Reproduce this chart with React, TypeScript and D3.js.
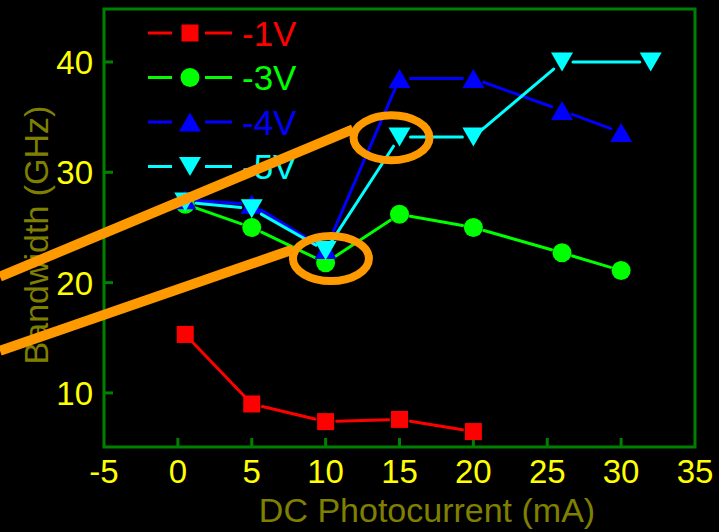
import React from "react";
import * as d3 from "d3";

// photocurrent (mA) and bandwidth (GHz) for each bias
const xLow = [0.5, 5, 10, 15, 20];
const bwNeg1 = [15.3, 9.0, 7.4, 7.6, 6.5];

const xMid = [0.5, 5, 10, 15, 20, 26, 30];
const bwNeg3 = [27.1, 25.0, 21.8, 26.2, 25.0, 22.7, 21.1];
const bwNeg4 = [27.5, 27.1, 23.0, 38.5, 38.5, 35.6, 33.6];

const xHigh = [0.5, 5, 10, 15, 20, 26, 32];
const bwNeg5 = [27.3, 26.7, 22.9, 33.2, 33.2, 40.0, 40.0];

const seriesNames = ["-1V", "-3V", "-4V", "-5V"];
const seriesColors = ["#ff0000", "#00ff00", "#0000ff", "#00ffff"];
const seriesMarkers = ["square", "circle", "up", "down"];

const xTicks = [-5, 0, 5, 10, 15, 20, 25, 30, 35];
const yTicks = [10, 20, 30, 40];

// highlighted points (data coords) and the two pointer lines
const circledPoints = [[14.46, 33.13], [10.36, 22.18]];
const pointerLines = [
  [[-12.04, 20.54], [11.85, 33.9]],
  [[-12.04, 13.82], [7.79, 23.0]],
];

const W = 719;
const H = 532;
const FONT = "'Liberation Sans', Arial, Helvetica, sans-serif";

function Marker({ kind, x, y, color }: { kind: string; x: number; y: number; color: string }) {
  if (kind === "square") return <rect x={x - 8.5} y={y - 8.5} width={17} height={17} fill={color} />;
  if (kind === "circle") return <circle cx={x} cy={y} r={9.5} fill={color} />;
  const w = 11, h = 9.5;
  if (kind === "up") return <path d={`M${x},${y - h}L${x + w},${y + h}L${x - w},${y + h}Z`} fill={color} />;
  return <path d={`M${x},${y + h}L${x + w},${y - h}L${x - w},${y - h}Z`} fill={color} />;
}

export default function App() {
  const left = 104, right = 695, top = 9, bottom = 447;
  const x = d3.scaleLinear().domain([-5, 35]).range([left, right]);
  const y = d3.scaleLinear().domain([5.1, 44.8]).range([bottom, top]);

  const series = [
    { xs: xLow, ys: bwNeg1 },
    { xs: xMid, ys: bwNeg3 },
    { xs: xMid, ys: bwNeg4 },
    { xs: xHigh, ys: bwNeg5 },
  ];

  // lines stop short of the markers, Origin style
  const gap = 11;
  const segments = (xs: number[], ys: number[]) => {
    const pts = xs.map((v, i) => [x(v), y(ys[i])]);
    return d3.pairs(pts).map(([a, b]) => {
      const dx = b[0] - a[0], dy = b[1] - a[1];
      const len = Math.hypot(dx, dy);
      const ux = dx / len, uy = dy / len;
      return [a[0] + ux * gap, a[1] + uy * gap, b[0] - ux * gap, b[1] - uy * gap];
    });
  };

  return (
    <svg width={W} height={H} style={{ position: "absolute", left: 0, top: 0, background: "#000" }}>
      <rect x={0} y={0} width={W} height={H} fill="#000" />

      {/* ticks */}
      {xTicks.slice(1, -1).map((t) => (
        <line key={"xt" + t} x1={x(t)} x2={x(t)} y1={bottom} y2={bottom - 9} stroke="#008000" strokeWidth={3} />
      ))}
      {yTicks.map((t) => (
        <line key={"yt" + t} x1={left} x2={left + 9} y1={y(t)} y2={y(t)} stroke="#008000" strokeWidth={3} />
      ))}
      <rect x={left} y={top} width={right - left} height={bottom - top} fill="none" stroke="#008000" strokeWidth={3} />

      {/* tick labels */}
      {xTicks.map((t) => (
        <text key={"xl" + t} x={x(t)} y={483} textAnchor="middle" fill="#ffff00" fontFamily={FONT} fontSize={33}>
          {t}
        </text>
      ))}
      {yTicks.map((t) => (
        <text key={"yl" + t} x={93} y={y(t) + 12} textAnchor="end" fill="#ffff00" fontFamily={FONT} fontSize={33}>
          {t}
        </text>
      ))}

      {/* axis titles */}
      <text x={427} y={522} textAnchor="middle" fill="#808000" fontFamily={FONT} fontSize={34}>
        DC Photocurrent (mA)
      </text>
      <text transform="translate(48,235) rotate(-90)" textAnchor="middle" fill="#808000" fontFamily={FONT} fontSize={34}>
        Bandwidth (GHz)
      </text>

      {/* data */}
      {series.map((s, i) => (
        <g key={"s" + i}>
          {segments(s.xs, s.ys).map((sg, j) => (
            <line key={j} x1={sg[0]} y1={sg[1]} x2={sg[2]} y2={sg[3]} stroke={seriesColors[i]} strokeWidth={3} strokeLinecap="round" />
          ))}
          {s.xs.map((v, j) => (
            <Marker key={"m" + j} kind={seriesMarkers[i]} x={x(v)} y={y(s.ys[j])} color={seriesColors[i]} />
          ))}
        </g>
      ))}

      {/* legend */}
      {seriesNames.map((name, i) => {
        const ly = 33 + i * 44.5;
        return (
          <g key={"lg" + i}>
            <line x1={148} x2={172} y1={ly} y2={ly} stroke={seriesColors[i]} strokeWidth={3} />
            <line x1={205} x2={232} y1={ly} y2={ly} stroke={seriesColors[i]} strokeWidth={3} />
            <Marker kind={seriesMarkers[i]} x={190} y={ly} color={seriesColors[i]} />
            <text x={242} y={ly + 12.5} fill={seriesColors[i]} fontFamily={FONT} fontSize={35}>
              {name}
            </text>
          </g>
        );
      })}

      {/* annotations */}
      {pointerLines.map((ln, i) => (
        <line key={"pl" + i} x1={x(ln[0][0])} y1={y(ln[0][1])} x2={x(ln[1][0])} y2={y(ln[1][1])} stroke="#ff9900" strokeWidth={10} />
      ))}
      {circledPoints.map((p, i) => (
        <ellipse key={"ce" + i} cx={x(p[0])} cy={y(p[1])} rx={38} ry={22.5} fill="none" stroke="#ff9900" strokeWidth={8} />
      ))}
    </svg>
  );
}
